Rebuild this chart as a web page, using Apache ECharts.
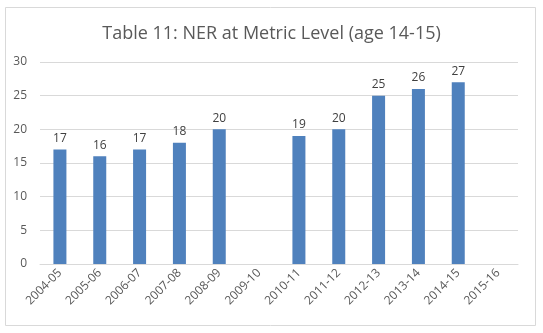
<!DOCTYPE html>
<html><head><meta charset="utf-8">
<script src="https://cdn.jsdelivr.net/npm/echarts@6/dist/echarts.min.js"></script>
<style>html,body{margin:0;padding:0;background:#fff}#c{width:543px;height:333px}</style>
</head><body><div id="c"></div>
<script>
var titleText = 'Table 11: NER at Metric Level (age 14-15)';
var categories = ['2004-05','2005-06','2006-07','2007-08','2008-09','2009-10','2010-11','2011-12','2012-13','2013-14','2014-15','2015-16'];
var values = [17,16,17,18,20,null,19,20,25,26,27,null];
var yTicks = {min:0, max:30, interval:5};

var chart = echarts.init(document.getElementById('c'), null, {renderer:'canvas'});
chart.setOption({
  animation:false,
  backgroundColor:'#fff',
  graphic:[{type:'rect', shape:{x:5.5,y:7.5,width:530,height:318}, style:{fill:'none', stroke:'#d9d9d9', lineWidth:1}, silent:true}],
  title:{text:titleText, left:'center', top:20, textStyle:{fontFamily:'Open Sans', fontSize:18, fontWeight:'normal', color:'#595959'}},
  grid:{left:40, right:25, top:62, bottom:69, containLabel:false},
  xAxis:{type:'category', data:categories,
    axisLine:{lineStyle:{color:'#d9d9d9'}}, axisTick:{show:false},
    axisLabel:{rotate:45, interval:0, color:'#595959', fontFamily:'Open Sans', fontSize:12, margin:7}},
  yAxis:{type:'value', min:yTicks.min, max:yTicks.max, interval:yTicks.interval,
    axisLine:{show:false}, axisTick:{show:false},
    splitLine:{lineStyle:{color:'#d9d9d9'}},
    axisLabel:{color:'#595959', fontFamily:'Open Sans', fontSize:12, margin:13}},
  series:[{type:'bar', data:values, barWidth:13, itemStyle:{color:'#4f81bd'},
    label:{show:true, position:'top', distance:5, color:'#404040', fontFamily:'Open Sans', fontSize:12}}]
});
</script></body></html>
